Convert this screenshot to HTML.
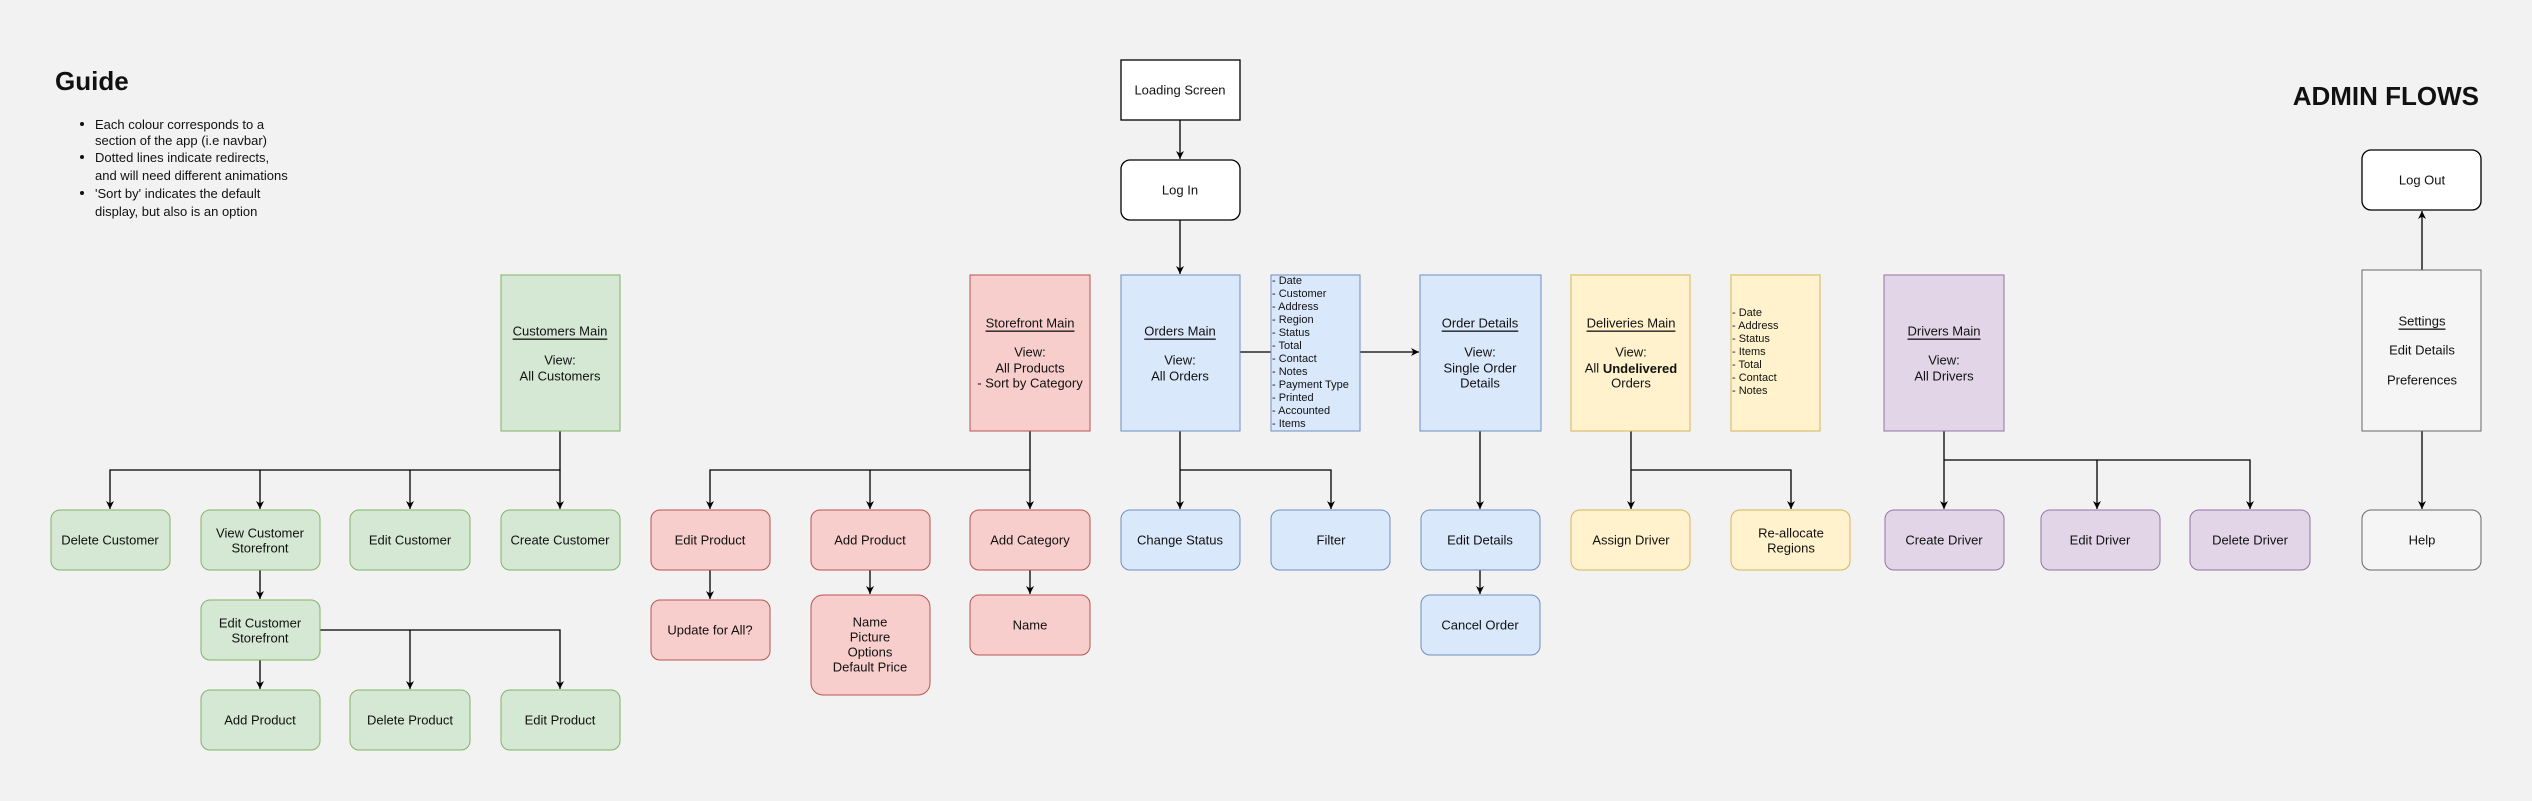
<!DOCTYPE html>
<html><head><meta charset="utf-8"><style>
html,body{margin:0;padding:0;background:#f2f2f2;}
svg{display:block;font-family:"Liberation Sans",Arial,sans-serif;}
text{font-size:13px;fill:#111;}
.t{text-anchor:middle;dominant-baseline:central;}
.l{font-size:11px;dominant-baseline:central;}
.e{stroke:#000;stroke-width:1.3;fill:none;}
</style></head><body>
<svg width="2532" height="801" viewBox="0 0 2532 801" xmlns="http://www.w3.org/2000/svg">
<defs><marker id="a" viewBox="0 0 10 10" refX="10" refY="5" markerWidth="8" markerHeight="8" orient="auto" markerUnits="userSpaceOnUse"><path d="M0,0 L10,5 L0,10 L3,5 z" fill="#000"/></marker></defs>
<rect width="2532" height="801" fill="#f2f2f2"/>

<!-- Guide -->
<text x="55" y="90" style="font-size:26px;font-weight:bold">Guide</text>
<g style="font-size:16px">
<circle cx="82" cy="124" r="2" fill="#111"/><circle cx="82" cy="157" r="2" fill="#111"/><circle cx="82" cy="193" r="2" fill="#111"/>
<text x="95" y="129">Each colour corresponds to a</text>
<text x="95" y="145">section of the app (i.e navbar)</text>
<text x="95" y="162">Dotted lines indicate redirects,</text>
<text x="95" y="180">and will need different animations</text>
<text x="95" y="198">'Sort by' indicates the default</text>
<text x="95" y="216">display, but also is an option</text>
</g>
<text x="2479" y="105" style="font-size:26px;font-weight:bold;text-anchor:end">ADMIN FLOWS</text>

<!-- edges -->
<g class="e">
<path d="M1180,120 V159" marker-end="url(#a)"/>
<path d="M1180,220 V274" marker-end="url(#a)"/>
<path d="M560,431 V470 H110 V509" marker-end="url(#a)"/>
<path d="M260,470 V509" marker-end="url(#a)"/>
<path d="M410,470 V509" marker-end="url(#a)"/>
<path d="M560,470 V509" marker-end="url(#a)"/>
<path d="M260,570 V599" marker-end="url(#a)"/>
<path d="M260,660 V689" marker-end="url(#a)"/>
<path d="M320,630 H560 V689" marker-end="url(#a)"/>
<path d="M410,630 V689" marker-end="url(#a)"/>
<path d="M1030,431 V470 H710 V509" marker-end="url(#a)"/>
<path d="M870,470 V509" marker-end="url(#a)"/>
<path d="M1030,470 V509" marker-end="url(#a)"/>
<path d="M710,570 V599" marker-end="url(#a)"/>
<path d="M870,570 V594" marker-end="url(#a)"/>
<path d="M1030,570 V594" marker-end="url(#a)"/>
<path d="M1180,431 V509" marker-end="url(#a)"/>
<path d="M1180,470 H1331 V509" marker-end="url(#a)"/>
<path d="M1240,352 H1419" marker-end="url(#a)"/>
<path d="M1480,431 V509" marker-end="url(#a)"/>
<path d="M1480,570 V594" marker-end="url(#a)"/>
<path d="M1631,431 V509" marker-end="url(#a)"/>
<path d="M1631,470 H1791 V509" marker-end="url(#a)"/>
<path d="M1944,431 V509" marker-end="url(#a)"/>
<path d="M1944,460 H2250 V509" marker-end="url(#a)"/>
<path d="M2097,460 V509" marker-end="url(#a)"/>
<path d="M2422,270 V211" marker-end="url(#a)"/>
<path d="M2422,431 V509" marker-end="url(#a)"/>
</g>

<!-- top -->
<rect x="1121" y="60" width="119" height="60" fill="#fff" stroke="#000" stroke-width="1.3"/>
<text class="t" x="1180" y="90">Loading Screen</text>
<rect x="1121" y="160" width="119" height="60" rx="9" fill="#fff" stroke="#000" stroke-width="1.3"/>
<text class="t" x="1180" y="190">Log In</text>

<!-- green -->
<g fill="#d5e8d4" stroke="#82b366">
<rect x="501" y="275" width="119" height="156"/>
<rect x="51" y="510" width="119" height="60" rx="9"/>
<rect x="201" y="510" width="119" height="60" rx="9"/>
<rect x="350" y="510" width="120" height="60" rx="9"/>
<rect x="501" y="510" width="119" height="60" rx="9"/>
<rect x="201" y="600" width="119" height="60" rx="9"/>
<rect x="201" y="690" width="119" height="60" rx="9"/>
<rect x="350" y="690" width="120" height="60" rx="9"/>
<rect x="501" y="690" width="119" height="60" rx="9"/>
</g>
<text class="t" x="560" y="331" text-decoration="underline">Customers Main</text>
<text class="t" x="560" y="360">View:</text><text class="t" x="560" y="376">All Customers</text>
<text class="t" x="110" y="540">Delete Customer</text>
<text class="t" x="260" y="533">View Customer</text><text class="t" x="260" y="548">Storefront</text>
<text class="t" x="410" y="540">Edit Customer</text>
<text class="t" x="560" y="540">Create Customer</text>
<text class="t" x="260" y="623">Edit Customer</text><text class="t" x="260" y="638">Storefront</text>
<text class="t" x="260" y="720">Add Product</text>
<text class="t" x="410" y="720">Delete Product</text>
<text class="t" x="560" y="720">Edit Product</text>

<!-- red -->
<g fill="#f8cecc" stroke="#b85450">
<rect x="970" y="275" width="120" height="156"/>
<rect x="651" y="510" width="119" height="60" rx="9"/>
<rect x="811" y="510" width="119" height="60" rx="9"/>
<rect x="970" y="510" width="120" height="60" rx="9"/>
<rect x="651" y="600" width="119" height="60" rx="9"/>
<rect x="811" y="595" width="119" height="100" rx="12"/>
<rect x="970" y="595" width="120" height="60" rx="9"/>
</g>
<text class="t" x="1030" y="323" text-decoration="underline">Storefront Main</text>
<text class="t" x="1030" y="352">View:</text><text class="t" x="1030" y="368">All Products</text><text class="t" x="1030" y="383">- Sort by Category</text>
<text class="t" x="710" y="540">Edit Product</text>
<text class="t" x="870" y="540">Add Product</text>
<text class="t" x="1030" y="540">Add Category</text>
<text class="t" x="710" y="630">Update for All?</text>
<text class="t" x="870" y="622">Name</text><text class="t" x="870" y="637">Picture</text><text class="t" x="870" y="652">Options</text><text class="t" x="870" y="667">Default Price</text>
<text class="t" x="1030" y="625">Name</text>

<!-- blue -->
<g fill="#dae8fc" stroke="#6c8ebf">
<rect x="1121" y="275" width="119" height="156"/>
<rect x="1271" y="275" width="89" height="156"/>
<rect x="1420" y="275" width="121" height="156"/>
<rect x="1121" y="510" width="119" height="60" rx="9"/>
<rect x="1271" y="510" width="119" height="60" rx="9"/>
<rect x="1421" y="510" width="119" height="60" rx="9"/>
<rect x="1421" y="595" width="119" height="60" rx="9"/>
</g>
<text class="t" x="1180" y="331" text-decoration="underline">Orders Main</text>
<text class="t" x="1180" y="360">View:</text><text class="t" x="1180" y="376">All Orders</text>
<text class="l" x="1272" y="281">- Date</text><text class="l" x="1272" y="294">- Customer</text><text class="l" x="1272" y="307">- Address</text><text class="l" x="1272" y="320">- Region</text><text class="l" x="1272" y="333">- Status</text><text class="l" x="1272" y="346">- Total</text><text class="l" x="1272" y="359">- Contact</text><text class="l" x="1272" y="372">- Notes</text><text class="l" x="1272" y="385">- Payment Type</text><text class="l" x="1272" y="398">- Printed</text><text class="l" x="1272" y="411">- Accounted</text><text class="l" x="1272" y="424">- Items</text>
<text class="t" x="1480" y="323" text-decoration="underline">Order Details</text>
<text class="t" x="1480" y="352">View:</text><text class="t" x="1480" y="368">Single Order</text><text class="t" x="1480" y="383">Details</text>
<text class="t" x="1180" y="540">Change Status</text>
<text class="t" x="1331" y="540">Filter</text>
<text class="t" x="1480" y="540">Edit Details</text>
<text class="t" x="1480" y="625">Cancel Order</text>

<!-- yellow -->
<g fill="#fff2cc" stroke="#d6b656">
<rect x="1571" y="275" width="119" height="156"/>
<rect x="1731" y="275" width="89" height="156"/>
<rect x="1571" y="510" width="119" height="60" rx="9"/>
<rect x="1731" y="510" width="119" height="60" rx="9"/>
</g>
<text class="t" x="1631" y="323" text-decoration="underline">Deliveries Main</text>
<text class="t" x="1631" y="352">View:</text><text class="t" x="1631" y="368">All <tspan font-weight="bold">Undelivered</tspan></text><text class="t" x="1631" y="383">Orders</text>
<text class="l" x="1732" y="313">- Date</text><text class="l" x="1732" y="326">- Address</text><text class="l" x="1732" y="339">- Status</text><text class="l" x="1732" y="352">- Items</text><text class="l" x="1732" y="365">- Total</text><text class="l" x="1732" y="378">- Contact</text><text class="l" x="1732" y="391">- Notes</text>
<text class="t" x="1631" y="540">Assign Driver</text>
<text class="t" x="1791" y="533">Re-allocate</text><text class="t" x="1791" y="548">Regions</text>

<!-- purple -->
<g fill="#e1d5e7" stroke="#9673a6">
<rect x="1884" y="275" width="120" height="156"/>
<rect x="1885" y="510" width="119" height="60" rx="9"/>
<rect x="2041" y="510" width="119" height="60" rx="9"/>
<rect x="2190" y="510" width="120" height="60" rx="9"/>
</g>
<text class="t" x="1944" y="331" text-decoration="underline">Drivers Main</text>
<text class="t" x="1944" y="360">View:</text><text class="t" x="1944" y="376">All Drivers</text>
<text class="t" x="1944" y="540">Create Driver</text>
<text class="t" x="2100" y="540">Edit Driver</text>
<text class="t" x="2250" y="540">Delete Driver</text>

<!-- settings -->
<rect x="2362" y="150" width="119" height="60" rx="9" fill="#fff" stroke="#000" stroke-width="1.3"/>
<text class="t" x="2422" y="180">Log Out</text>
<rect x="2362" y="270" width="119" height="161" fill="#f5f5f5" stroke="#666"/>
<text class="t" x="2422" y="321" text-decoration="underline">Settings</text>
<text class="t" x="2422" y="350">Edit Details</text>
<text class="t" x="2422" y="380">Preferences</text>
<rect x="2362" y="510" width="119" height="60" rx="9" fill="#f5f5f5" stroke="#666"/>
<text class="t" x="2422" y="540">Help</text>
</svg>
</body></html>
